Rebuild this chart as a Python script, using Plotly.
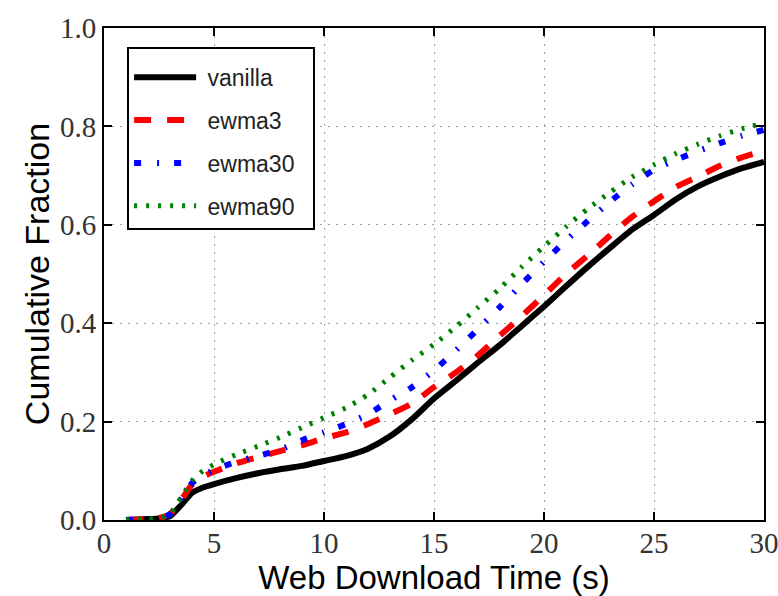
import plotly.graph_objects as go

x_vals = [1, 2, 2.5, 3, 3.5, 4, 4.5, 5, 6, 7, 8, 9, 10, 11, 12, 13, 14, 15, 16, 17,
          18, 19, 20, 21, 22, 23, 24, 25, 26, 27, 28, 29, 30]

vanilla = [0.0, 0.002, 0.003, 0.008, 0.03, 0.055, 0.066, 0.073, 0.085, 0.095, 0.103, 0.11,
           0.12, 0.13, 0.145, 0.17, 0.205, 0.247, 0.283, 0.32, 0.356, 0.395, 0.434, 0.475,
           0.515, 0.553, 0.59, 0.62, 0.652, 0.678, 0.698, 0.715, 0.728]

ewma3 = [0.0, 0.002, 0.004, 0.012, 0.04, 0.072, 0.088, 0.098, 0.115, 0.128, 0.14, 0.152,
         0.166, 0.178, 0.195, 0.215, 0.237, 0.27, 0.30, 0.335, 0.375, 0.415, 0.457, 0.50,
         0.538, 0.578, 0.616, 0.648, 0.677, 0.698, 0.72, 0.737, 0.75]

ewma30 = [0.0, 0.002, 0.004, 0.012, 0.042, 0.075, 0.09, 0.102, 0.118, 0.13, 0.143, 0.162,
          0.178, 0.195, 0.215, 0.243, 0.27, 0.304, 0.345, 0.388, 0.433, 0.48, 0.525, 0.568,
          0.608, 0.647, 0.682, 0.712, 0.732, 0.75, 0.766, 0.781, 0.793]

ewma90 = [0.0, 0.002, 0.004, 0.013, 0.045, 0.08, 0.10, 0.113, 0.133, 0.15, 0.168, 0.188,
          0.208, 0.228, 0.255, 0.29, 0.325, 0.357, 0.393, 0.432, 0.471, 0.515, 0.556, 0.596,
          0.633, 0.666, 0.697, 0.722, 0.745, 0.764, 0.781, 0.795, 0.807]

x_ticks = [0, 5, 10, 15, 20, 25, 30]
y_ticks = [0.0, 0.2, 0.4, 0.6, 0.8, 1.0]
y_tick_text = ["0.0", "0.2", "0.4", "0.6", "0.8", "1.0"]

series = [
    ("vanilla", vanilla, "black", "solid", 6),
    ("ewma3", ewma3, "#ff0000", "17px,16px", 6),
    ("ewma30", ewma30, "#0000ff", "7px,16px,2px,15px", 6),
    ("ewma90", ewma90, "#008000", "3px,9px", 5),
]

NB = "\u00a0"
fig = go.Figure()
for name, ys, color, dash, width in series:
    fig.add_trace(go.Scatter(
        x=x_vals, y=ys, mode="lines", name=NB + name + NB * 2, legendgroup=name,
        line=dict(color=color, dash=dash, width=width, shape="spline", smoothing=0.6),
    ))

axis_common = dict(
    showline=True, linecolor="black", linewidth=2, mirror="allticks",
    ticks="inside", ticklen=8, tickwidth=1.5, tickcolor="black",
    showgrid=True, gridcolor="#a0a0a0", gridwidth=1, griddash="2px,6px",
    zeroline=False, automargin=False, ticklabeloverflow="allow",
    tickfont=dict(family="Liberation Serif", size=29, color="#333333"),
)

fig.update_xaxes(range=[0, 30], tickvals=x_ticks, ticktext=[str(t) for t in x_ticks],
                 ticklabelstandoff=-4,
                 title=dict(text="Web Download Time (s)", standoff=8,
                            font=dict(family="Liberation Sans", size=33, color="black")),
                 **axis_common)
fig.update_yaxes(range=[0, 1.0], tickvals=y_ticks, ticktext=y_tick_text,
                 title=dict(text="Cumulative Fraction", standoff=0,
                            font=dict(family="Liberation Sans", size=34, color="black")),
                 **axis_common)

fig.update_layout(
    width=778, height=596,
    margin=dict(l=104, r=14, t=28, b=76),
    plot_bgcolor="white", paper_bgcolor="white",
    showlegend=True,
    legend=dict(
        x=0.035, y=0.961, xanchor="left", yanchor="top",
        bgcolor="white", bordercolor="black", borderwidth=2,
        font=dict(family="Liberation Sans", size=23, color="#222222"),
        title=dict(text=NB, font=dict(size=5)),
        tracegroupgap=10, itemwidth=62,
    ),
)

fig.write_html("out.html", config={"displayModeBar": False},
               post_script="document.body.style.margin='0px';")
